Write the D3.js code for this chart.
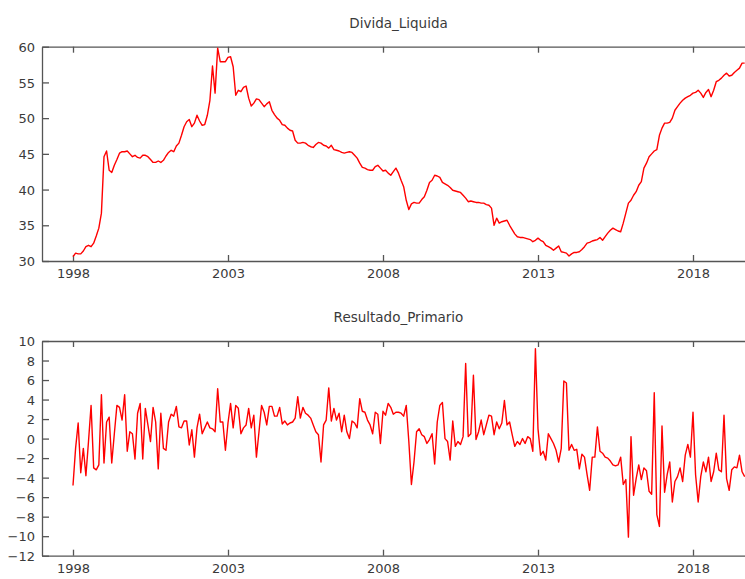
<!DOCTYPE html>
<html>
<head>
<meta charset="utf-8">
<script src="https://cdn.jsdelivr.net/npm/d3@7"></script>
<style>
  body { margin: 0; background: #fff; }
  svg { display: block; }
  .axis text { font-family: "DejaVu Sans", sans-serif; font-size: 13px; fill: #3a3a3a; }
  .axis line, .axis path { stroke: #555; stroke-width: 1.3; }
  .title { font-family: "DejaVu Sans", sans-serif; font-size: 13.5px; fill: #3a3a3a; }
</style>
</head>
<body>
<svg id="chart" width="745" height="579"></svg>
<script>
// monthly series, starting 1998:01
var startYear = 1998;
var xTicks = [1998, 2003, 2008, 2013, 2018];

var dividaTicks = [30, 35, 40, 45, 50, 55, 60];
var resultadoTicks = [-12, -10, -8, -6, -4, -2, 0, 2, 4, 6, 8, 10];

var divida = [
  30.6, 31.1, 31.0, 31.0, 31.4, 32.0, 32.2, 32.0, 32.5, 33.5, 34.6, 36.7,
  44.6, 45.4, 42.7, 42.4, 43.4, 44.2, 45.1, 45.3, 45.3, 45.4, 45.0, 44.6,
  44.8, 44.5, 44.4, 44.8, 44.8, 44.6, 44.2, 43.8, 43.8, 44.0, 43.8, 44.1,
  44.7, 45.2, 45.5, 45.3, 46.1, 46.5, 47.6, 48.8, 49.5, 49.8, 48.8, 49.3,
  50.4, 49.6, 49.0, 49.1, 50.4, 52.5, 57.3, 53.5, 59.8, 57.9, 57.9, 57.9,
  58.5, 58.6, 57.2, 53.2, 53.9, 53.7, 54.3, 54.5, 52.8, 51.7, 52.1, 52.7,
  52.6, 52.1, 51.6, 52.0, 52.3, 51.1, 50.5, 50.0, 49.7, 49.1, 49.0, 48.6,
  48.3, 48.2, 46.9, 46.5, 46.5, 46.6, 46.5, 46.2, 46.0, 45.9, 46.3, 46.6,
  46.5, 46.2, 46.1, 45.8, 46.2, 45.6, 45.5, 45.4, 45.2, 45.1, 45.2, 45.3,
  45.2, 44.8, 44.4, 43.7, 43.1, 43.0, 42.8, 42.7, 42.7, 43.2, 43.4, 43.0,
  42.6, 42.7, 42.3, 42.0, 42.5, 43.0, 42.3, 41.3, 40.4, 38.5, 37.2, 38.0,
  38.2, 38.1, 38.1, 38.6, 39.0, 39.9, 41.0, 41.3, 42.0, 41.9, 41.7, 41.0,
  40.8, 40.6, 40.3, 39.9, 39.8, 39.7, 39.6, 39.2, 38.8, 38.3, 38.4, 38.3,
  38.2, 38.2, 38.1, 38.1, 37.9, 37.8, 37.4, 35.0, 36.0, 35.3, 35.5, 35.6,
  35.7, 35.0, 34.4, 33.8, 33.4, 33.3, 33.3, 33.2, 33.1, 33.0, 32.7, 32.9,
  33.2, 32.9, 32.7, 32.2, 32.0, 31.8, 31.5, 31.8, 32.1, 31.3, 31.2, 31.1,
  30.7, 31.0, 31.2, 31.2, 31.3, 31.6, 32.0, 32.5, 32.6, 32.8, 32.9, 33.0,
  33.3, 32.9, 33.4, 33.9, 34.3, 34.6, 34.4, 34.2, 34.1, 35.3, 36.7, 38.1,
  38.5, 39.2, 39.7, 40.6, 41.1, 43.0, 43.7, 44.6, 45.0, 45.4, 45.6, 47.6,
  48.6, 49.3, 49.3, 49.4, 50.0, 51.1, 51.6, 52.1, 52.5, 52.8, 53.0, 53.2,
  53.5, 53.6, 53.9, 53.5, 52.9, 53.6, 54.0, 53.0, 53.9, 55.1, 55.3, 55.6,
  56.0, 56.3, 55.9, 56.0, 56.4, 56.7, 57.0, 57.7, 57.7
];

var resultado = [
  -4.8, -1.0, 1.6, -3.5, -1.0, -3.8, -0.3, 3.4, -3.0, -3.2, -2.7, 4.5,
  -2.5, 1.7, 2.2, -2.5, 0.5, 3.4, 3.2, 1.9, 4.5, -1.3, 0.7, 0.5,
  -2.1, 2.6, 3.6, -2.1, 3.1, 1.4, -0.3, 3.2, 1.7, -3.1, 2.6, -1.0,
  -1.2, 1.7, 2.5, 2.3, 3.3, 1.2, 1.1, 1.8, 1.8, -0.65, 0.9, -1.9,
  1.1, 2.5, 0.5, 1.1, 1.7, 1.1, 1.0, 0.7, 5.1, 1.7, 1.7, -1.2,
  1.6, 3.6, 1.1, 3.4, 3.1, 0.5, 1.1, 1.4, 3.1, 1.1, 2.4, -1.9,
  0.7, 3.4, 2.7, 1.4, 3.3, 3.3, 2.3, 2.3, 3.2, 1.5, 1.8, 1.4,
  1.6, 1.7, 2.1, 4.3, 2.1, 3.2, 2.6, 2.4, 2.1, 1.4, 0.7, 0.4,
  -2.4, 1.4, 1.9, 5.2, 1.8, 3.1, 1.9, 2.6, 0.7, 2.4, 0.7, 0.0,
  1.8, 1.6, 1.1, 4.1, 2.8, 2.7, 1.9, 1.4, 0.5, 2.7, 2.5, -0.5,
  2.8, 2.4, 3.6, 3.2, 2.5, 2.7, 2.7, 2.6, 2.3, 3.4, -0.3, -4.7,
  -2.4, 0.7, 1.0, 0.4, 0.2, -0.5, -0.1, 0.5, -2.6, 1.7, 3.4, 3.7,
  0.0, -0.3, -2.2, 1.8, -0.8, -0.3, -0.6, 0.2, 7.7, 0.2, 0.5, 6.5,
  -0.1, 0.7, 1.9, 0.4, 1.4, 2.4, 2.3, 0.4, 1.7, 1.0, 1.6, 3.9,
  1.4, 1.7, 0.4, -0.8, -0.3, -0.6, 0.0, -0.5, 0.2, 0.0, -1.3, 9.2,
  1.0, -1.7, -1.3, -2.2, 0.5, 0.0, -0.5, -1.2, -2.4, -1.0, 5.9, 5.7,
  -1.2, -0.6, -1.2, -1.1, -3.1, -1.6, -1.9, -3.7, -5.3, -1.9, -1.9, 1.2,
  -1.3, -1.5, -1.9, -2.0, -2.3, -2.7, -2.8, -2.7, -1.9, -4.7, -4.2, -10.1,
  0.2, -5.8, -4.1, -2.7, -4.2, -3.0, -3.3, -5.4, -5.7, 4.7, -7.8, -9.0,
  1.3, -5.5, -3.7, -2.4, -6.5, -4.4, -3.9, -3.0, -4.4, -1.7, -0.6, -1.9,
  2.7, -3.7, -6.5, -3.9, -2.4, -3.4, -1.9, -4.4, -3.4, -1.5, -3.2, -3.4,
  2.4, -4.1, -5.3, -3.2, -2.9, -3.0, -1.7, -3.4, -3.9
];

var svg = d3.select("#chart");

var x = d3.scaleLinear().domain([1997, 2020]).range([42, 755]);

function panel(name, values, yDomain, yTicks, top, bottom, titleY) {
  var y = d3.scaleLinear().domain(yDomain).range([bottom, top]);
  var g = svg.append("g");

  g.append("text")
      .attr("class", "title")
      .attr("x", (x.range()[0] + x.range()[1]) / 2)
      .attr("y", titleY)
      .attr("text-anchor", "middle")
      .text(name);

  // bottom axis with labels, ticks pointing inward
  g.append("g")
      .attr("class", "axis")
      .attr("transform", "translate(0," + bottom + ")")
      .call(d3.axisBottom(x).tickValues(xTicks).tickFormat(d3.format("d"))
        .tickSizeInner(-6).tickSizeOuter(0).tickPadding(8));

  // top border, mirrored ticks
  g.append("g")
      .attr("class", "axis")
      .attr("transform", "translate(0," + top + ")")
      .call(d3.axisTop(x).tickValues(xTicks).tickFormat("")
        .tickSizeInner(-6).tickSizeOuter(0));

  g.append("g")
      .attr("class", "axis")
      .attr("transform", "translate(" + x.range()[0] + ",0)")
      .call(d3.axisLeft(y).tickValues(yTicks)
        .tickSizeInner(-7).tickSizeOuter(0).tickPadding(7));

  g.selectAll(".axis .tick text").attr("dy", "0.36em");
  g.selectAll(".axis").filter(function(d, i) { return i == 0; })
    .selectAll(".tick text").attr("dy", "0.71em");

  var line = d3.line()
      .x(function(d, i) { return x(startYear + i / 12); })
      .y(function(d) { return y(d); });

  g.append("path")
      .datum(values)
      .attr("fill", "none")
      .attr("stroke", "#ff0000")
      .attr("stroke-width", 1.4)
      .attr("stroke-linejoin", "round")
      .attr("d", line);
}

panel("Divida_Liquida", divida, [30, 60], dividaTicks, 46.7, 261, 28);
panel("Resultado_Primario", resultado, [-12, 10], resultadoTicks, 341, 555.7, 322);
</script>
</body>
</html>
